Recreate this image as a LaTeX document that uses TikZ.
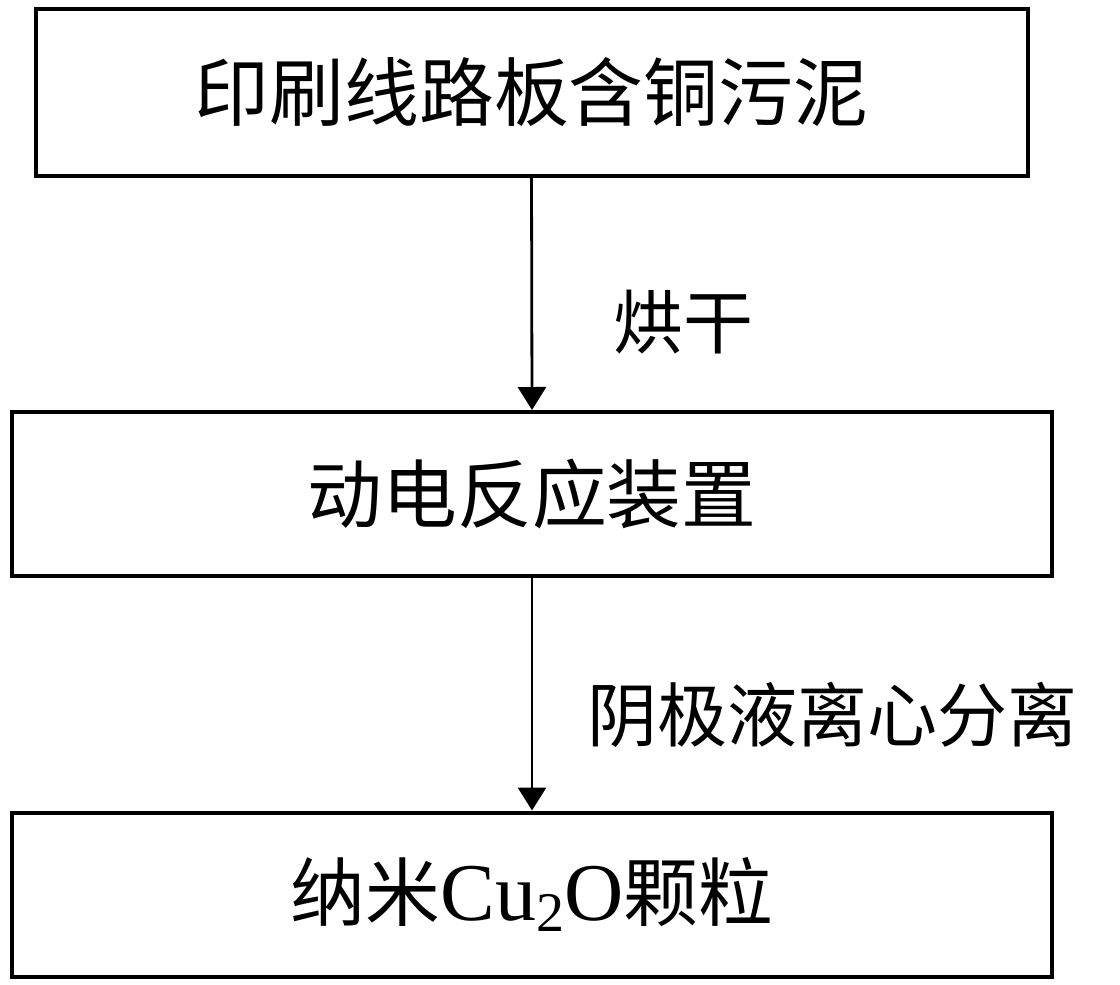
\documentclass[tikz,border=0pt]{standalone}
\usepackage{fontspec}
\setmainfont{Noto Sans CJK SC}
\newfontfamily\latinfont{Liberation Serif}
\usepackage{tikz}
\usetikzlibrary{arrows.meta, positioning}

\tikzset{
  stagebox/.style={draw, line width=1pt, rectangle, inner sep=0pt,
    font=\fontsize{18.7}{20}\selectfont},
  steplabel/.style={font=\fontsize{17.5}{20}\selectfont},
  flow/.style={-{Triangle[length=5.75pt, width=7pt]}, line width=0.7pt}
}

\begin{document}
\begin{tikzpicture}[x=0.25pt, y=-0.25pt]
\useasboundingbox (0,0) rectangle (1120,984);

% The stages
\node [stagebox, minimum width=248pt, minimum height=41.5pt] (sludge) at (531.5,92.5) {印刷线路板含铜污泥};
\node [stagebox, minimum width=260pt, minimum height=41pt] (reactor) at (532,494) {动电反应装置};
\node [stagebox, minimum width=260pt, minimum height=41pt] (particles) at (532,894.5)
  {纳米{\latinfont\fontsize{20.5}{20}\selectfont Cu\raisebox{-0.3ex}{\fontsize{14}{14}\selectfont 2}O}颗粒\hspace{2pt}};

% The steps
\draw [flow] (sludge.south) -- (reactor.north);
\draw [flow] (reactor.south) -- (particles.north);

\node [steplabel] (drying) at (683,322) {烘干};
\node [steplabel] (separation) at (832,715) {阴极液离心分离};

\end{tikzpicture}
\end{document}
